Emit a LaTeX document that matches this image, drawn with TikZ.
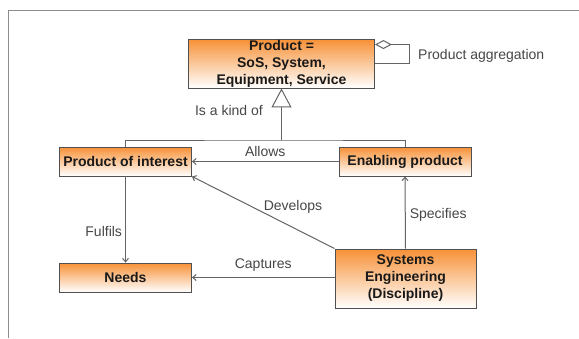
\documentclass[tikz,border=0pt]{standalone}
\usepackage{fontspec}
\setmainfont{Liberation Sans}
\usetikzlibrary{arrows.meta,calc}
\definecolor{boxorange}{RGB}{247,145,55}
\definecolor{boxline}{RGB}{80,80,80}
\definecolor{conn}{RGB}{100,100,100}
\definecolor{lbl}{RGB}{70,70,70}
\definecolor{frame}{RGB}{140,140,140}
\tikzset{
  x=1pt,y=-1pt,
  cls/.style={draw=boxline,line width=0.9pt,top color=boxorange,bottom color=white,
    font=\fontsize{14}{17}\selectfont\bfseries,text=black!90,align=center,
    inner sep=0pt,rectangle},
  conn/.style={draw=conn,line width=1pt,-{Straight Barb[length=3.5pt,width=6pt]}},
  lab/.style={font=\fontsize{14}{16}\selectfont,text=lbl,inner sep=0pt},
}
\begin{document}
\begin{tikzpicture}
\useasboundingbox (0,0) rectangle (579,338);
\draw[frame,line width=1pt] (8,338) -- (8,10) -- (579,10);

\node[cls,minimum width=186pt,minimum height=49pt] (prod) at (281.5,63.5) {Product =\\SoS, System,\\Equipment, Service};
\node[cls,minimum width=132pt,minimum height=29pt] (poi) at (125.5,161.5) {Product of interest};
\node[cls,minimum width=132pt,minimum height=29pt] (ep) at (405,161.5) {Enabling product};
\node[cls,minimum width=132pt,minimum height=29pt] (needs) at (125.5,277.5) {Needs};
\node[cls,minimum width=141pt,minimum height=59pt] (se) at (405.5,278.5) {Systems\\Engineering\\(Discipline)};

% generalization
\coordinate (gj) at (281.5,140);
\draw[conn,-] (poi.north) |- (gj) -| (ep.north);
\draw[draw=conn,line width=1pt,-{Triangle[open,length=19pt,width=20pt]}] (gj) -- (prod.south);
\node[lab,anchor=east] (kind) at (263,110) {Is a kind of};

% aggregation
\coordinate (aggA) at ([yshift=-6pt]prod.north east);
\draw[draw=conn,line width=1pt,{Diamond[open,length=17pt,width=9pt]}-] (aggA) -- ++(35,0) |- (prod.east);
\node[lab,anchor=west] (agg) at (418,56) {Product aggregation};

% associations
\draw[conn] (ep.west) -- node[lab,above=4pt] (allows) {Allows} (poi.east);
\draw[conn] (poi.south) -- node[lab,left=3pt,pos=0.64] (ful) {Fulfils} (needs.north);
\draw[conn] (se.west |- needs.east) -- node[lab,above=6pt] (cap) {Captures} (needs.east);
\draw[conn] (se.north) -- node[lab,right=4pt,pos=0.47] (spec) {Specifies} (ep.south);
\draw[conn] (se.north west) -- (poi.south east);
\node[lab] (dev) at (293,207) {Develops};
\end{tikzpicture}
\end{document}
